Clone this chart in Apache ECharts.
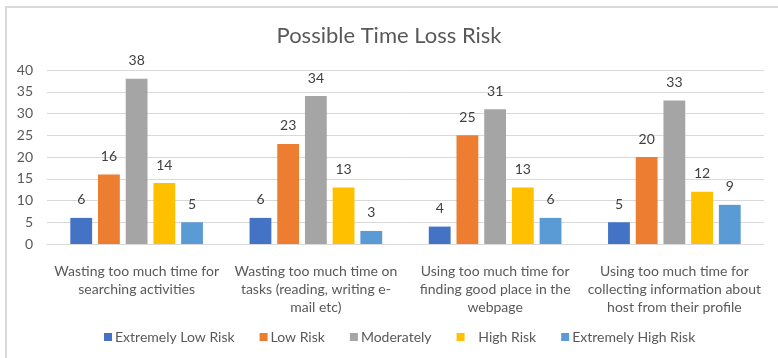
<!DOCTYPE html>
<html>
<head>
<meta charset="utf-8">
<script src="https://cdn.jsdelivr.net/npm/echarts@6/dist/echarts.min.js"></script>
<style>
  html, body { margin: 0; padding: 0; background: #fff; }
  #chart { width: 778px; height: 358px; }
</style>
</head>
<body>
<div id="chart"></div>
<script>
// Survey categories (x axis)
const categories = [
  'Wasting too much time for\nsearching activities',
  'Wasting too much time on\ntasks (reading, writing e-\nmail etc)',
  'Using too much time for\nfinding good place in the\nwebpage',
  'Using too much time for\ncollecting information about\nhost from their profile'
];

// Risk levels (series names)
const riskLevels = ['Extremely Low Risk', 'Low Risk', 'Moderately', '   High Risk', 'Extremely High Risk'];

// Responses per risk level, one value per category
const extremelyLow = [6, 6, 4, 5];
const low = [16, 23, 25, 20];
const moderately = [38, 34, 31, 33];
const high = [14, 13, 13, 12];
const extremelyHigh = [5, 3, 6, 9];

// Y axis ticks
const yMin = 0, yMax = 40, yStep = 5;

const seriesValues = [extremelyLow, low, moderately, high, extremelyHigh];
const colors = ['#4472C4', '#ED7D31', '#A5A5A5', '#FFC000', '#5B9BD5'];
const fontFamily = 'Lato, "Open Sans", sans-serif';

const chart = echarts.init(document.getElementById('chart'), null, { renderer: 'canvas' });

chart.setOption({
  animation: false,
  color: colors,
  textStyle: { fontFamily: fontFamily },
  title: {
    text: 'Possible Time Loss Risk',
    left: 'center',
    top: 20,
    textStyle: { fontFamily: fontFamily, fontSize: 22, fontWeight: 'normal', color: '#595959' }
  },
  graphic: [{
    type: 'polyline',
    shape: { points: [[6, 400], [6, 7], [800, 7]] },
    style: { stroke: '#D9D9D9', lineWidth: 2, fill: null },
    silent: true
  }],
  legend: {
    bottom: 9,
    left: 99,
    itemWidth: 8,
    itemHeight: 8,
    itemGap: 25,
    icon: 'rect',
    textStyle: { fontFamily: fontFamily, fontSize: 14, color: '#595959', padding: [0, 0, 0, -2] },
    data: riskLevels
  },
  grid: { left: 47, right: 14, top: 70, bottom: 114, containLabel: false },
  xAxis: {
    type: 'category',
    data: categories,
    axisLine: { lineStyle: { color: '#D9D9D9', width: 1 } },
    axisTick: { show: false },
    axisLabel: {
      interval: 0,
      margin: 18,
      color: '#595959',
      fontFamily: fontFamily,
      fontSize: 14,
      lineHeight: 18
    }
  },
  yAxis: {
    type: 'value',
    min: yMin,
    max: yMax,
    interval: yStep,
    axisLine: { show: false },
    axisTick: { show: false },
    splitLine: { lineStyle: { color: '#D9D9D9', width: 1 } },
    axisLabel: { color: '#595959', fontFamily: fontFamily, fontSize: 14, margin: 14, align: 'right' }
  },
  series: riskLevels.map((name, i) => ({
    name: name,
    type: 'bar',
    data: seriesValues[i],
    barGap: '27%',
    barCategoryGap: '26%',
    label: {
      show: true,
      position: 'top',
      distance: 11,
      color: '#404040',
      fontFamily: fontFamily,
      fontSize: 14
    }
  }))
});
</script>
</body>
</html>
